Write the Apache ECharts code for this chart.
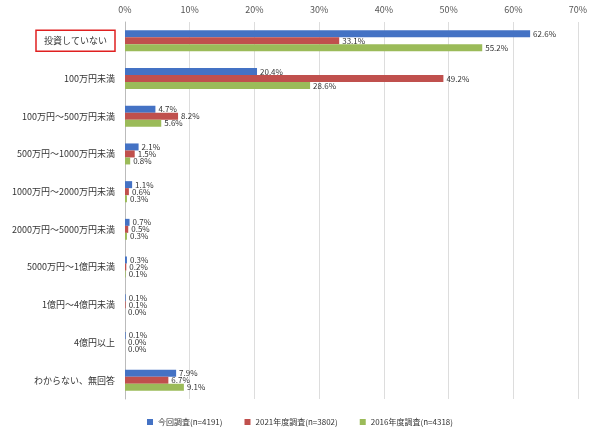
<!DOCTYPE html>
<html><head><meta charset="utf-8">
<script src="https://cdn.jsdelivr.net/npm/echarts@6/dist/echarts.min.js"></script>
<style>html,body{margin:0;padding:0;background:#fff}#c{width:600px;height:437px}</style>
</head><body><div id="c"></div>
<script>
const categories=["投資していない","100万円未満","100万円～500万円未満","500万円～1000万円未満","1000万円～2000万円未満","2000万円～5000万円未満","5000万円～1億円未満","1億円～4億円未満","4億円以上","わからない、無回答"];
const seriesNames=["今回調査(n=4191)","2021年度調査(n=3802)","2016年度調査(n=4318)"];
const s1=[62.6,20.4,4.7,2.1,1.1,0.7,0.3,0.1,0.1,7.9];
const s2=[33.1,49.2,8.2,1.5,0.6,0.5,0.2,0.1,0.0,6.7];
const s3=[55.2,28.6,5.6,0.8,0.3,0.3,0.1,0.0,0.0,9.1];
const colors=["#4472C4","#C0504D","#9BBB59"];
const font='"Noto Sans CJK JP","Noto Sans",sans-serif';
const chart=echarts.init(document.getElementById('c'));
const mk=(name,data,i)=>({name,type:'bar',data,barWidth:7,barGap:'0%',barCategoryGap:'30%',
 itemStyle:{color:colors[i]},
 label:{show:true,position:'right',distance:3,fontSize:8,color:'#333',fontFamily:font,formatter:p=>p.value.toFixed(1)+'%'}});
chart.setOption({
 animation:false,
 textStyle:{fontFamily:font},
 grid:{left:125,right:22,top:22,bottom:38},
 xAxis:{type:'value',position:'top',min:0,max:70,interval:10,
  axisLabel:{formatter:'{value}%',fontSize:9,color:'#555'},
  splitLine:{lineStyle:{color:'#ddd'}},axisLine:{show:false},axisTick:{show:false}},
 yAxis:{type:'category',inverse:true,data:categories,
  axisLine:{lineStyle:{color:'#bbb'}},axisTick:{show:false},
  axisLabel:{fontSize:9,color:'#333',margin:10,
   formatter:(v,i)=>i===0?'{box|'+v+'}':v,
   rich:{box:{borderColor:'#e02020',borderWidth:1.5,padding:[6,8],fontSize:9,color:'#333'}}}},
 legend:{bottom:6,left:'center',itemWidth:6,itemHeight:6,icon:'rect',textStyle:{fontSize:8,color:'#333'},itemGap:22},
 series:[mk(seriesNames[0],s1,0),mk(seriesNames[1],s2,1),mk(seriesNames[2],s3,2)]
});
</script></body></html>
